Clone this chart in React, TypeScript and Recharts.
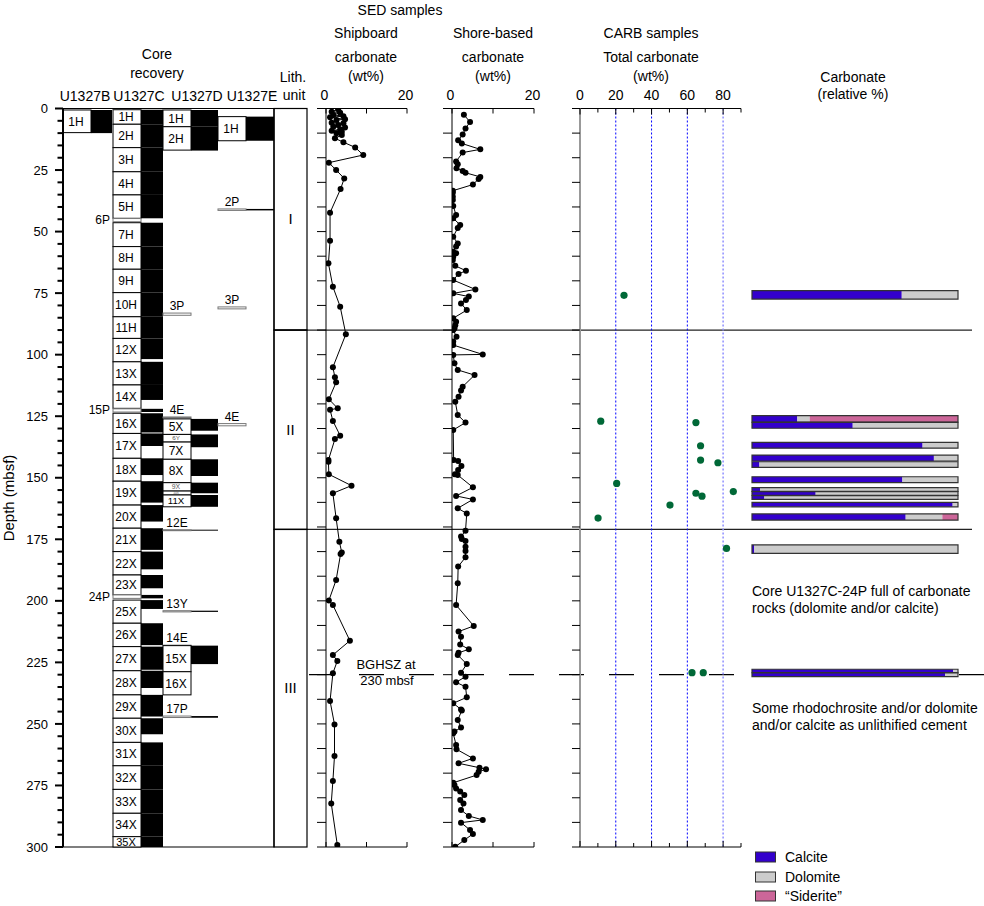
import React from 'react';
import { ComposedChart, XAxis, YAxis, Scatter, ReferenceArea, ReferenceLine } from 'recharts';

const FONT = '"Liberation Sans", Arial, Helvetica, sans-serif';
const W = 984;
const H = 906;
const Y0 = 108.5; // pixel row of 0 mbsf
const Y300 = 847; // pixel row of 300 mbsf

const CALCITE = '#3300cc';
const DOLOMITE = '#cccccc';
const SIDERITE = '#cc6699';
const GREEN = '#006837';

// ---------------- data ----------------
const depthLabelTicks = [0, 25, 50, 75, 100, 125, 150, 175, 200, 225, 250, 275, 300];
const depthTicksCore = Array.from({ length: 61 }, (_, i) => i * 5);
const depthTicksProfile = Array.from({ length: 31 }, (_, i) => i * 10);

const wtTicks = [0, 10, 20];
const wtLabels = [0, 20];
const carbTicks = [0, 10, 20, 30, 40, 50, 60, 70, 80, 90];
const carbLabels = [0, 20, 40, 60, 80];
const carbGuides = [20, 40, 60, 80];

type Core = { name: string; top: number; bottom: number; rec: number };

const coresB: Core[] = [{ name: '1H', top: 0.6, bottom: 9.8, rec: 10.0 }];

const coresC: Core[] = [
  { name: '1H', top: 0.5, bottom: 6.4, rec: 6.4 },
  { name: '2H', top: 6.4, bottom: 15.9, rec: 15.9 },
  { name: '3H', top: 15.9, bottom: 25.7, rec: 25.7 },
  { name: '4H', top: 25.7, bottom: 35.1, rec: 35.1 },
  { name: '5H', top: 35.1, bottom: 44.6, rec: 44.6 },
  { name: '6P', top: 44.7, bottom: 46.0, rec: 44.7 },
  { name: '7H', top: 46.4, bottom: 56.1, rec: 56.1 },
  { name: '8H', top: 56.1, bottom: 65.3, rec: 65.3 },
  { name: '9H', top: 65.3, bottom: 74.8, rec: 74.8 },
  { name: '10H', top: 74.8, bottom: 84.6, rec: 84.6 },
  { name: '11H', top: 84.6, bottom: 93.4, rec: 93.4 },
  { name: '12X', top: 93.4, bottom: 102.9, rec: 101.8 },
  { name: '13X', top: 102.9, bottom: 112.3, rec: 112.3 },
  { name: '14X', top: 112.3, bottom: 121.8, rec: 118.4 },
  { name: '15P', top: 122.0, bottom: 123.3, rec: 123.3 },
  { name: '16X', top: 123.8, bottom: 132.0, rec: 131.6 },
  { name: '17X', top: 132.0, bottom: 142.1, rec: 137.1 },
  { name: '18X', top: 142.1, bottom: 151.4, rec: 148.9 },
  { name: '19X', top: 151.4, bottom: 161.1, rec: 160.1 },
  { name: '20X', top: 161.1, bottom: 170.5, rec: 167.8 },
  { name: '21X', top: 170.5, bottom: 180.0, rec: 179.3 },
  { name: '22X', top: 180.0, bottom: 189.5, rec: 187.2 },
  { name: '23X', top: 189.5, bottom: 197.6, rec: 194.9 },
  { name: '24P', top: 197.6, bottom: 199.0, rec: 199.0 },
  { name: '25X', top: 199.7, bottom: 209.1, rec: 203.3 },
  { name: '26X', top: 209.1, bottom: 218.6, rec: 218.0 },
  { name: '27X', top: 218.6, bottom: 228.4, rec: 228.0 },
  { name: '28X', top: 228.4, bottom: 238.2, rec: 235.4 },
  { name: '29X', top: 238.2, bottom: 247.7, rec: 247.0 },
  { name: '30X', top: 247.7, bottom: 257.5, rec: 254.2 },
  { name: '31X', top: 257.5, bottom: 267.0, rec: 267.0 },
  { name: '32X', top: 267.0, bottom: 276.6, rec: 276.6 },
  { name: '33X', top: 276.6, bottom: 286.3, rec: 286.3 },
  { name: '34X', top: 286.3, bottom: 295.8, rec: 295.8 },
  { name: '35X', top: 295.8, bottom: 300.0, rec: 300.0 },
];

const coresD: Core[] = [
  { name: '1H', top: 0.6, bottom: 7.4, rec: 7.4 },
  { name: '2H', top: 7.4, bottom: 16.9, rec: 17.1 },
  { name: '3P', top: 83.1, bottom: 84.0, rec: 83.1 },
  { name: '4E', top: 125.3, bottom: 125.7, rec: 125.3 },
  { name: '5X', top: 126.1, bottom: 132.4, rec: 130.9 },
  { name: '6Y', top: 132.4, bottom: 135.5, rec: 137.6 },
  { name: '7X', top: 135.5, bottom: 142.5, rec: 135.5 },
  { name: '8X', top: 142.5, bottom: 152.0, rec: 149.3 },
  { name: '9X', top: 152.0, bottom: 155.4, rec: 156.3 },
  { name: '10X', top: 155.4, bottom: 157.0, rec: 155.4 },
  { name: '11X', top: 157.0, bottom: 161.8, rec: 161.8 },
  { name: '12E', top: 171.1, bottom: 171.5, rec: 171.5 },
  { name: '13Y', top: 204.0, bottom: 204.5, rec: 204.5 },
  { name: '14E', top: 218.0, bottom: 218.2, rec: 218.0 },
  { name: '15X', top: 218.2, bottom: 228.8, rec: 225.7 },
  { name: '16X', top: 228.8, bottom: 238.2, rec: 228.8 },
  { name: '17P', top: 246.8, bottom: 247.4, rec: 247.5 },
];

const coresE: Core[] = [
  { name: '1H', top: 3.3, bottom: 13.1, rec: 13.1 },
  { name: '2P', top: 40.8, bottom: 41.4, rec: 41.4 },
  { name: '3P', top: 80.6, bottom: 81.4, rec: 80.6 },
  { name: '4E', top: 128.0, bottom: 128.9, rec: 128.0 },
];

const holes = ['U1327B', 'U1327C', 'U1327D', 'U1327E'];

const lithUnits = [
  { name: 'I', top: 0, bottom: 90 },
  { name: 'II', top: 90, bottom: 171 },
  { name: 'III', top: 171, bottom: 300 },
];
const bghszDepth = 230;

// Shipboard carbonate (depth mbsf, wt%)
const shipboard: [number, number][] = [
  [0.3, 3.0], [1.3, 1.4], [1.7, 3.5], [2.6, 1.8], [3.1, 4.3], [3.6, 1.0], [4.4, 4.7], [4.7, 2.6],
  [5.8, 1.4], [6.0, 4.3], [6.7, 3.0], [7.4, 1.8], [7.7, 4.7], [8.5, 3.5], [9.0, 1.4], [9.4, 3.9],
  [10.1, 2.6], [10.8, 3.9], [12.1, 2.2], [13.7, 4.3], [15.8, 7.2], [18.9, 9.2], [22.0, 0.7],
  [25.0, 2.5], [28.4, 4.5], [32.7, 3.6], [42.3, 1.0], [53.7, 1.0], [62.9, 0.6], [72.4, 1.7],
  [80.5, 3.5], [91.7, 4.9], [105.1, 1.7], [109.2, 2.2], [111.2, 2.5], [118.1, 0.7], [121.8, 2.9],
  [122.4, 1.0], [126.9, 1.7], [132.9, 3.5], [134.3, 2.2], [142.8, 0.6], [143.5, 0.6], [148.6, 0.7],
  [153.2, 6.3], [156.3, 1.7], [166.5, 2.5], [176.0, 3.3], [180.4, 3.9], [181.0, 3.6], [191.5, 2.5],
  [199.9, 0.7], [201.7, 1.7], [216.2, 5.9], [222.0, 1.7], [224.4, 2.8], [229.4, 1.7], [240.7, 1.0],
  [250.2, 2.1], [263.0, 2.1], [273.2, 1.7], [282.3, 1.3], [299.2, 2.8],
];

// Shore-based carbonate (depth mbsf, wt%)
const shoreBased: [number, number][] = [
  [2.5, 2.9], [5.5, 4.4], [8.1, 3.3], [10.6, 2.6], [12.9, 1.5], [14.2, 2.4], [16.6, 6.9], [17.9, 2.6],
  [21.5, 1.0], [22.6, 1.4], [24.3, 1.1], [25.4, 2.6], [26.1, 3.3], [27.8, 6.9], [28.6, 6.5], [30.9, 5.1],
  [33.4, 0.2], [34.2, 0.2], [35.8, 0.2], [37.2, 0.2], [39.6, 0.3], [43.3, 1.0], [44.6, 0.3], [47.3, 2.0],
  [48.5, 1.4], [52.1, 0.3], [54.8, 1.4], [56.1, 1.0], [58.2, 0.3], [58.8, 1.0], [60.2, 0.3], [61.5, 0.2],
  [63.9, 0.8], [65.9, 3.4], [67.2, 1.6], [69.7, 0.3], [73.5, 5.7], [75.1, 0.3], [76.4, 4.1], [77.8, 3.4],
  [79.2, 2.2], [81.9, 3.6], [85.2, 0.3], [86.6, 1.0], [88.0, 0.8], [89.3, 0.6], [90.0, 0.3], [92.7, 1.1],
  [94.7, 0.3], [96.1, 0.3], [99.9, 7.5], [100.1, 0.3], [103.5, 0.6], [106.2, 1.4], [108.3, 5.5],
  [113.0, 2.6], [114.6, 2.2], [117.1, 1.6], [119.1, 0.8], [124.5, 1.4], [127.6, 3.3], [130.6, 0.3],
  [142.8, 0.4], [143.2, 1.5], [145.2, 2.3], [146.9, 1.5], [148.6, 0.7], [148.9, 1.4], [153.9, 5.1],
  [157.4, 1.0], [158.8, 5.1], [162.4, 1.4], [164.5, 3.6], [171.5, 3.3], [173.9, 2.2], [174.9, 2.4],
  [175.7, 3.3], [178.0, 3.3], [179.8, 3.3], [182.3, 3.3], [186.1, 1.5], [192.9, 1.4], [201.7, 1.0],
  [210.2, 5.3], [212.5, 1.6], [214.6, 2.2], [217.7, 2.0], [219.7, 4.1], [221.1, 1.6], [222.0, 1.4],
  [225.7, 3.6], [229.2, 2.2], [230.8, 3.3], [233.1, 1.0], [234.9, 3.3], [239.2, 3.6], [241.6, 0.3],
  [244.1, 2.2], [244.6, 2.4], [248.4, 1.4], [251.5, 2.2], [253.1, 0.6], [253.8, 0.3], [258.6, 1.0],
  [260.3, 1.1], [264.0, 5.1], [266.0, 1.6], [267.8, 6.7], [268.4, 8.3], [269.4, 6.5], [270.8, 6.0],
  [273.9, 0.3], [274.8, 0.6], [276.2, 1.0], [277.5, 2.0], [278.9, 3.0], [280.9, 2.0], [282.3, 2.8],
  [285.0, 2.2], [287.4, 4.1], [289.0, 7.5], [290.1, 2.2], [293.1, 4.4], [294.7, 5.1], [297.2, 3.0],
  [299.9, 0.8],
];

// CARB total carbonate (depth mbsf, wt%)
const carbTotal: [number, number][] = [
  [75.9, 24.6], [127.0, 11.6], [127.6, 64.8], [137.0, 67.4], [142.8, 67.4], [143.9, 77.1],
  [152.3, 20.5], [155.6, 85.7], [156.3, 64.8], [157.5, 68.2], [161.1, 50.3], [166.4, 10.1],
  [178.7, 81.9], [229.2, 62.6], [229.2, 68.9],
];

// CARB relative carbonate composition (%)
const carbRelative = [
  { top: 74.0, bottom: 77.4, calcite: 72.7, dolomite: 27.3, siderite: 0 },
  { top: 124.8, bottom: 127.4, calcite: 22.0, dolomite: 6.0, siderite: 72.0 },
  { top: 127.5, bottom: 129.9, calcite: 48.9, dolomite: 51.1, siderite: 0 },
  { top: 135.6, bottom: 138.0, calcite: 82.8, dolomite: 17.2, siderite: 0 },
  { top: 140.8, bottom: 143.2, calcite: 88.3, dolomite: 11.7, siderite: 0 },
  { top: 143.5, bottom: 145.8, calcite: 3.6, dolomite: 96.4, siderite: 0 },
  { top: 149.6, bottom: 152.0, calcite: 73.0, dolomite: 27.0, siderite: 0 },
  { top: 154.0, bottom: 155.5, calcite: 3.9, dolomite: 96.1, siderite: 0 },
  { top: 155.6, bottom: 157.1, calcite: 30.9, dolomite: 69.1, siderite: 0 },
  { top: 157.3, bottom: 158.8, calcite: 6.0, dolomite: 94.0, siderite: 0 },
  { top: 160.0, bottom: 161.8, calcite: 97.4, dolomite: 2.6, siderite: 0 },
  { top: 164.7, bottom: 167.2, calcite: 74.6, dolomite: 17.8, siderite: 7.6 },
  { top: 177.3, bottom: 180.7, calcite: 1.1, dolomite: 98.9, siderite: 0 },
  { top: 227.8, bottom: 229.2, calcite: 97.7, dolomite: 2.3, siderite: 0 },
  { top: 229.3, bottom: 230.8, calcite: 93.7, dolomite: 6.3, siderite: 0 },
];

const toPts = (arr: [number, number][]) => arr.map(([depth, value]) => ({ depth, value }));

// ---------------- layout ----------------
// core panel x-units: 1 unit = 1 px, origin at left axis (x = 63)
const holeCols: Record<string, [number, number, number]> = {
  B: [0, 28, 49],
  C: [50, 78, 100],
  D: [100, 128, 155],
  E: [155, 183, 211],
};
const lithCol: [number, number] = [211, 244];

// ---------------- ticks ----------------
const DepthTick = (p: any) => {
  const v = p.payload.value;
  const major = depthLabelTicks.includes(v);
  return (
    <g>
      <line x1={p.x - (major ? 8 : 5.5)} x2={p.x} y1={p.y} y2={p.y} stroke="#000" strokeWidth={2} />
      {major && (
        <text x={p.x - 15} y={p.y} dy={4.6} textAnchor="end" fontSize={13} fontFamily={FONT} fill="#000">
          {v}
        </text>
      )}
    </g>
  );
};

const makeLeftTick = (len: number) => (p: any) => (
  <line x1={p.x - len} x2={p.x} y1={p.y} y2={p.y} stroke="#000" strokeWidth={1} />
);

const makeTopTick = (labels: number[], lenFn: (v: number) => number, dx: number) => (p: any) => {
  const v = p.payload.value;
  return (
    <g>
      <line x1={p.x} x2={p.x} y1={p.y} y2={p.y + lenFn(v)} stroke="#000" strokeWidth={1} />
      {labels.includes(v) && (
        <text x={p.x + dx} y={p.y - 8.5} textAnchor="middle" fontSize={14} fontFamily={FONT} fill="#000">
          {v}
        </text>
      )}
    </g>
  );
};

const makeBottomTick = (lenFn: (v: number) => number) => (p: any) => {
  const v = p.payload.value;
  return <line x1={p.x} x2={p.x} y1={p.y} y2={p.y - lenFn(v)} stroke="#000" strokeWidth={1} />;
};

const dot = (r: number, fill: string) => (p: any) => <circle cx={p.cx} cy={p.cy} r={r} fill={fill} />;
const noDot = () => <g />;

// invisible axes (kept rendered so their scales always exist)
const ghostX = (domain: [number, number], dataKey: string) => (
  <XAxis type="number" dataKey={dataKey} domain={domain} height={0} allowDataOverflow tick={false} tickLine={false} axisLine={false} />
);
const ghostY = () => (
  <YAxis type="number" dataKey="depth" domain={[0, 300]} reversed width={0} allowDataOverflow tick={false} tickLine={false} axisLine={false} />
);

// ---------------- core panel ----------------
const coreShape = (core: Core, hole: string) => (p: any) => {
  const { x, y, width, height } = p;
  const thin = core.bottom - core.top < 1.5;
  const truncated = core.bottom >= 300;
  const fs = truncated ? 11 : Math.min(12, height / 1.22);
  let label: React.ReactNode;
  if (thin && hole === 'C') {
    label = (
      <text x={x - 3} y={y + height / 2 + 4} textAnchor="end" fontSize={12} fontFamily={FONT} fill="#000">
        {core.name}
      </text>
    );
  } else if (thin) {
    label = (
      <text x={x + width / 2} y={y - 3} textAnchor="middle" fontSize={12} fontFamily={FONT} fill="#000">
        {core.name}
      </text>
    );
  } else {
    label = (
      <text
        x={x + width / 2 - 1}
        y={truncated ? y + height - 1 : y + height / 2 + fs * 0.36}
        textAnchor="middle"
        fontSize={fs}
        fontFamily={FONT}
        fill={fs < 8 ? '#555' : '#000'}
      >
        {core.name}
      </text>
    );
  }
  return (
    <g>
      <rect x={x} y={y} width={width} height={Math.max(height, 1)} fill="#fff" stroke={thin ? '#777' : '#000'} strokeWidth={1} />
      {label}
    </g>
  );
};

const lithShape = (name: string) => (p: any) => (
  <g>
    <rect x={p.x} y={p.y} width={p.width} height={p.height} fill="none" stroke="#000" strokeWidth={1.2} />
    <text x={p.x + p.width / 2} y={p.y + p.height / 2 + 5} textAnchor="middle" fontSize={15} fontFamily={FONT} fill="#000">
      {name}
    </text>
  </g>
);

function CorePanel() {
  const holeData: [string, Core[]][] = [['B', coresB], ['C', coresC], ['D', coresD], ['E', coresE]];
  const areas: React.ReactNode[] = [];
  const anchors: { col: number; depth: number }[] = [];
  areas.push(
    <ReferenceArea key="frame" x1={0} x2={lithCol[0]} y1={0} y2={300} fill="none" fillOpacity={0} stroke="#000" strokeWidth={1.2} />
  );
  holeData.forEach(([h, cores]) => {
    const [c0, c1, c2] = holeCols[h];
    cores.forEach((c) => {
      anchors.push({ col: c0, depth: c.top });
      if (c.rec > c.top) {
        areas.push(
          <ReferenceArea key={`${h}-${c.name}-rec`} x1={c1} x2={c2} y1={c.top} y2={c.rec} fill="#000" fillOpacity={1} stroke="none" />
        );
      }
      areas.push(
        <ReferenceArea key={`${h}-${c.name}`} x1={c0} x2={c1} y1={c.top} y2={c.bottom} shape={coreShape(c, h)} />
      );
    });
  });
  lithUnits.forEach((u) => {
    areas.push(
      <ReferenceArea key={`lith-${u.name}`} x1={lithCol[0]} x2={lithCol[1]} y1={u.top} y2={u.bottom} shape={lithShape(u.name)} />
    );
  });
  return (
    <div style={{ position: 'absolute', left: 0, top: 0 }}>
      <ComposedChart width={320} height={H} margin={{ top: Y0, right: 13, bottom: H - Y300, left: 0 }}>
        {ghostX([0, 244], 'col')}
        <YAxis
          type="number"
          dataKey="depth"
          domain={[0, 300]}
          reversed
          width={63}
          ticks={depthTicksCore}
          interval={0}
          tickLine={false}
          tickSize={0}
          tickMargin={0}
          axisLine={{ stroke: '#000', strokeWidth: 2 }}
          tick={DepthTick}
          allowDataOverflow
        />
        <Scatter data={anchors} shape={noDot} isAnimationActive={false} />
        {areas}
      </ComposedChart>
    </div>
  );
}

// ---------------- profile panels ----------------
type ProfileProps = {
  left: number;
  width: number;
  plotLeft: number;
  plotRight: number;
  domain: [number, number];
  ticks: number[];
  labels: number[];
  lenFn: (v: number) => number;
  labelDx: number;
  yAxisStroke: string;
  yAxisWidth: number;
  leftTickLen: number;
  children?: React.ReactNode;
};

function Profile(props: ProfileProps) {
  const { left, width, plotLeft, plotRight, domain, ticks, labels, lenFn, labelDx, yAxisStroke, yAxisWidth, leftTickLen, children } = props;
  return (
    <div style={{ position: 'absolute', left, top: 0 }}>
      <ComposedChart
        width={width}
        height={H}
        margin={{ top: Y0 - 30, bottom: H - Y300 - 30, left: plotLeft - left - 26, right: left + width - plotRight }}
      >
        <XAxis
          xAxisId="top"
          orientation="top"
          type="number"
          dataKey="value"
          domain={domain}
          ticks={ticks}
          interval={0}
          height={30}
          allowDataOverflow
          tickLine={false}
          tickSize={0}
          tickMargin={0}
          axisLine={{ stroke: '#000', strokeWidth: 1 }}
          tick={makeTopTick(labels, lenFn, labelDx)}
        />
        <XAxis
          xAxisId="bottom"
          orientation="bottom"
          type="number"
          dataKey="value"
          domain={domain}
          ticks={ticks}
          interval={0}
          height={30}
          allowDataOverflow
          tickLine={false}
          tickSize={0}
          tickMargin={0}
          axisLine={{ stroke: '#000', strokeWidth: 1 }}
          tick={makeBottomTick(lenFn)}
        />
        <YAxis
          type="number"
          dataKey="depth"
          domain={[0, 300]}
          reversed
          width={26}
          ticks={depthTicksProfile}
          interval={0}
          allowDataOverflow
          tickLine={false}
          tickSize={0}
          tickMargin={0}
          axisLine={{ stroke: yAxisStroke, strokeWidth: yAxisWidth }}
          tick={makeLeftTick(leftTickLen)}
        />
        {children}
      </ComposedChart>
    </div>
  );
}

function Overlay() {
  const bounds = lithUnits.slice(1).map((u) => ({ px: 274, depth: u.top }));
  return (
    <div style={{ position: 'absolute', left: 0, top: 0 }}>
      <ComposedChart width={W} height={H} margin={{ top: Y0, bottom: H - Y300, left: 0, right: 0 }}>
        {ghostX([0, W], 'px')}
        {ghostY()}
        <Scatter data={bounds} shape={noDot} isAnimationActive={false} />
        {bounds.map((b) => (
          <ReferenceLine key={b.depth} segment={[{ x: 274, y: b.depth }, { x: 972, y: b.depth }]} stroke="#222" strokeWidth={1.2} />
        ))}
        <ReferenceLine
          segment={[{ x: 309, y: bghszDepth }, { x: W, y: bghszDepth }]}
          stroke="#000"
          strokeWidth={1.2}
          strokeDasharray="25 25"
        />
      </ComposedChart>
    </div>
  );
}

function BarsPanel() {
  const anchors = carbRelative.map((b) => ({ pct: 0, depth: b.top }));
  const areas = carbRelative.flatMap((b, i) => {
    const c1 = b.calcite;
    const c2 = b.calcite + b.dolomite;
    const c3 = c2 + b.siderite;
    const out: React.ReactNode[] = [];
    if (b.calcite > 0)
      out.push(<ReferenceArea key={`c${i}`} x1={0} x2={c1} y1={b.top} y2={b.bottom} fill={CALCITE} fillOpacity={1} stroke="none" />);
    if (b.dolomite > 0)
      out.push(<ReferenceArea key={`d${i}`} x1={c1} x2={c2} y1={b.top} y2={b.bottom} fill={DOLOMITE} fillOpacity={1} stroke="none" />);
    if (b.siderite > 0)
      out.push(<ReferenceArea key={`s${i}`} x1={c2} x2={c3} y1={b.top} y2={b.bottom} fill={SIDERITE} fillOpacity={1} stroke="none" />);
    out.push(<ReferenceArea key={`o${i}`} x1={0} x2={c3} y1={b.top} y2={b.bottom} fill="none" fillOpacity={0} stroke="#333" strokeWidth={1.2} />);
    return out;
  });
  return (
    <div style={{ position: 'absolute', left: 740, top: 0 }}>
      <ComposedChart width={244} height={H} margin={{ top: Y0, bottom: H - Y300, left: 12, right: 26 }}>
        {ghostX([0, 100], 'pct')}
        {ghostY()}
        <Scatter data={anchors} shape={noDot} isAnimationActive={false} />
        {areas}
      </ComposedChart>
    </div>
  );
}

function Texts() {
  const t = (x: number, y: number, s: string, extra: any = {}) => (
    <text x={x} y={y} textAnchor="middle" {...extra}>
      {s}
    </text>
  );
  return (
    <svg width={W} height={H} style={{ position: 'absolute', left: 0, top: 0, pointerEvents: 'none' }} fontFamily={FONT} fontSize={14} fill="#000">
      {t(400, 15, 'SED samples')}
      {t(157, 59, 'Core')}
      {t(157, 78, 'recovery')}
      {t(85, 100.5, holes[0])}
      {t(139, 100.5, holes[1])}
      {t(197, 100.5, holes[2])}
      {t(252, 100.5, holes[3])}
      {t(293, 81.5, 'Lith.')}
      {t(294, 100, 'unit')}
      {t(366, 38, 'Shipboard')}
      {t(366, 62, 'carbonate')}
      {t(366, 81, '(wt%)')}
      {t(493, 38, 'Shore-based')}
      {t(493, 62, 'carbonate')}
      {t(493, 81, '(wt%)')}
      {t(651, 38, 'CARB samples')}
      {t(651, 62, 'Total carbonate')}
      {t(651, 81, '(wt%)')}
      {t(853, 81.5, 'Carbonate')}
      {t(853, 99, '(relative %)')}
      {t(386, 669, 'BGHSZ at', { fontSize: 13 })}
      {t(387, 685, '230 mbsf', { fontSize: 13 })}
      <text x={752} y={596}>Core U1327C-24P full of carbonate</text>
      <text x={752} y={613}>rocks (dolomite and/or calcite)</text>
      <text x={752} y={713}>Some rhodochrosite and/or dolomite</text>
      <text x={752} y={730}>and/or calcite as unlithified cement</text>
      <text transform="translate(14, 498) rotate(-90)" textAnchor="middle" fontSize={15}>
        Depth (mbsf)
      </text>
      <rect x={755.5} y={852} width={20} height={10} fill={CALCITE} stroke="#333" strokeWidth={1} />
      <rect x={755.5} y={872} width={20} height={10} fill={DOLOMITE} stroke="#333" strokeWidth={1} />
      <rect x={755.5} y={891} width={20} height={10} fill={SIDERITE} stroke="#333" strokeWidth={1} />
      <text x={785} y={862}>Calcite</text>
      <text x={785} y={881.5}>Dolomite</text>
      <text x={785} y={901}>“Siderite”</text>
    </svg>
  );
}

export default function App() {
  const ship = toPts(shipboard);
  const shore = toPts(shoreBased);
  const carb = toPts(carbTotal);
  const wtLen = () => 5;
  const carbLen = (v: number) => (v % 20 === 0 ? 6 : 4);
  return (
    <div style={{ position: 'absolute', left: 0, top: 0, width: W, height: H, background: '#fff', fontFamily: FONT, overflow: 'hidden' }}>
      <Overlay />
      <CorePanel />
      <Profile
        left={300}
        width={120}
        plotLeft={326}
        plotRight={407}
        domain={[0, 20]}
        ticks={wtTicks}
        labels={wtLabels}
        lenFn={wtLen}
        labelDx={-1.5}
        yAxisStroke="#000"
        yAxisWidth={1}
        leftTickLen={9}
      >
        <Scatter xAxisId="top" data={ship} fill="#000" line={{ stroke: '#000', strokeWidth: 1 }} shape={dot(3, '#000')} isAnimationActive={false} />
      </Profile>
      <Profile
        left={426}
        width={120}
        plotLeft={452}
        plotRight={534}
        domain={[0, 20]}
        ticks={wtTicks}
        labels={wtLabels}
        lenFn={wtLen}
        labelDx={-1.5}
        yAxisStroke="#000"
        yAxisWidth={1}
        leftTickLen={9}
      >
        <Scatter xAxisId="top" data={shore} fill="#000" line={{ stroke: '#000', strokeWidth: 1 }} shape={dot(3, '#000')} isAnimationActive={false} />
      </Profile>
      <Profile
        left={554}
        width={200}
        plotLeft={580}
        plotRight={741}
        domain={[0, 90]}
        ticks={carbTicks}
        labels={carbLabels}
        lenFn={carbLen}
        labelDx={0}
        yAxisStroke="#999"
        yAxisWidth={2}
        leftTickLen={8}
      >
        {carbGuides.map((g) => (
          <ReferenceLine key={g} xAxisId="top" x={g} stroke={g === 80 ? '#8f8fff' : '#0000ff'} strokeWidth={g === 80 ? 1.5 : 1} strokeDasharray="2 2" />
        ))}
        <Scatter xAxisId="top" data={carb} fill={GREEN} shape={dot(3.6, GREEN)} isAnimationActive={false} />
      </Profile>
      <BarsPanel />
      <Texts />
    </div>
  );
}
